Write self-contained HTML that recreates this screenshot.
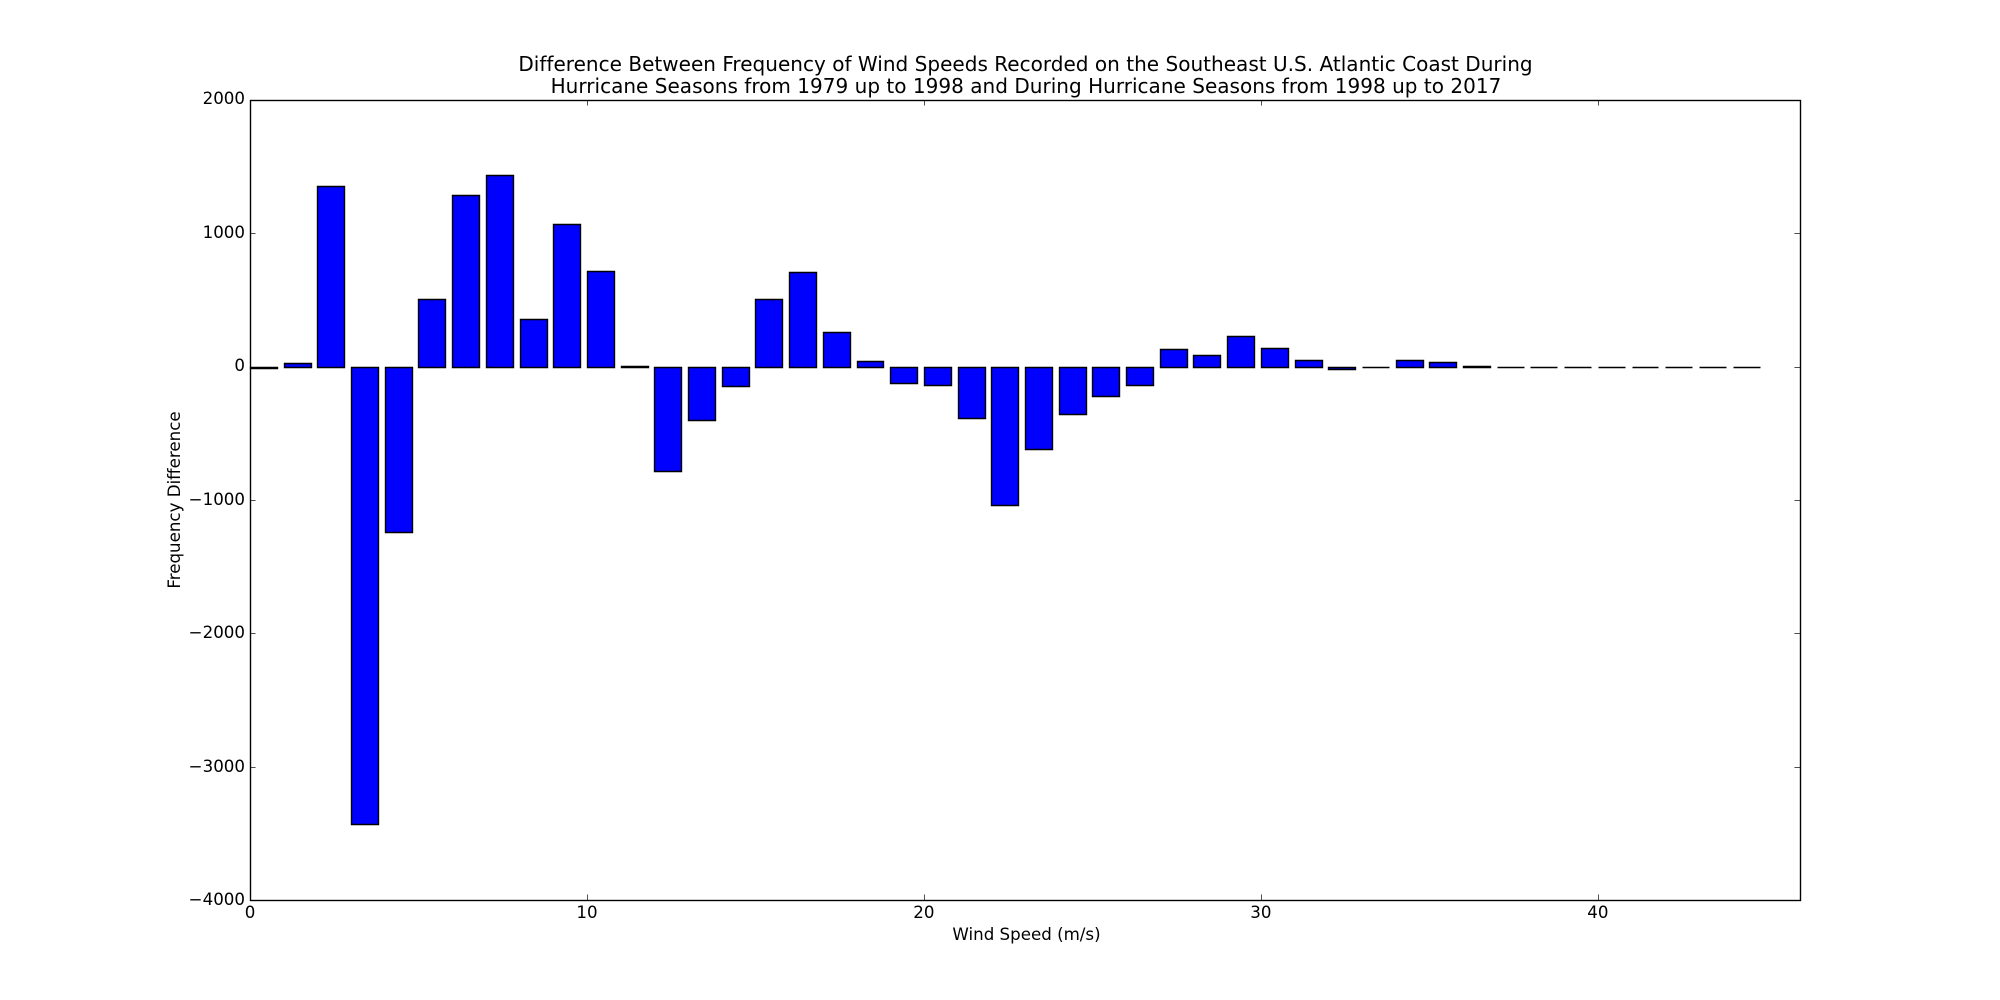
<!DOCTYPE html>
<html lang="en">
<head>
<meta charset="utf-8">
<title>Wind Speed Frequency Difference</title>
<style>
  html, body { margin: 0; padding: 0; background: #ffffff; }
  svg { display: block; }
  text { font-family: "DejaVu Sans", "Liberation Sans", sans-serif; fill: #000000; }
</style>
</head>
<body>
<svg id="chart" xmlns="http://www.w3.org/2000/svg" width="2000" height="1000" viewBox="0 0 2000 1000">
  <rect x="0" y="0" width="2000" height="1000" fill="#ffffff"/>
  <text x="1025.5" y="71" font-size="20" letter-spacing="0.02" text-anchor="middle">Difference Between Frequency of Wind Speeds Recorded on the Southeast U.S. Atlantic Coast During</text>
  <text x="1026" y="93" font-size="20" letter-spacing="0.02" text-anchor="middle">Hurricane Seasons from 1979 up to 1998 and During Hurricane Seasons from 1998 up to 2017</text>
  <text x="1026.5" y="940" font-size="16.67" text-anchor="middle">Wind Speed (m/s)</text>
  <text x="0" y="0" font-size="16.67" text-anchor="middle" transform="translate(180 500) rotate(-90)">Frequency Difference</text>
  <g id="bars"></g>
  <g id="ticks"></g>
  <g id="tick-labels"></g>
  <rect x="250.5" y="100.5" width="1550" height="800" fill="none" stroke="#000000" stroke-width="1.39"/>
</svg>
<script>
const windSpeeds = [0,1,2,3,4,5,6,7,8,9,10,11,12,13,14,15,16,17,18,19,20,21,22,23,24,25,26,27,28,29,30,31,32,33,34,35,36,37,38,39,40,41,42,43,44];
const frequencyDifferences = [-10,27,1355,-3430,-1240,505,1290,1438,360,1072,720,8,-782,-400,-145,507,712,258,42,-125,-140,-385,-1037,-620,-355,-220,-137,135,87,230,142,52,-17,0,52,37,8,0,0,0,0,0,0,0,0];
const xTickValues = [0,10,20,30,40];
const xTickLabels = ['0','10','20','30','40'];
const yTickValues = [2000,1000,0,-1000,-2000,-3000,-4000];
const yTickLabels = ['2000','1000','0','\u22121000','\u22122000','\u22123000','\u22124000'];

const NS = 'http://www.w3.org/2000/svg';
const plotLeft = 250, plotRight = 1800, plotTop = 100, plotBottom = 900;
const xMin = 0, xMax = 46, yMin = -4000, yMax = 2000, barWidth = 0.8;

function xScale(v) { return plotLeft + (v - xMin) / (xMax - xMin) * (plotRight - plotLeft); }
function yScale(v) { return plotBottom - (v - yMin) / (yMax - yMin) * (plotBottom - plotTop); }
function snap(p) { return Math.round(p) + 0.5; }

const barsGroup = document.getElementById('bars');
windSpeeds.forEach(function (speed, i) {
  const value = frequencyDifferences[i];
  const x0 = snap(xScale(speed));
  const x1 = snap(xScale(speed + barWidth));
  const y0 = snap(yScale(Math.max(value, 0)));
  const y1 = snap(yScale(Math.min(value, 0)));
  const bar = document.createElementNS(NS, 'path');
  bar.setAttribute('d', 'M' + x0 + ' ' + y0 + 'H' + x1 + 'V' + y1 + 'H' + x0 + 'Z');
  bar.setAttribute('fill', '#0000ff');
  bar.setAttribute('stroke', '#000000');
  bar.setAttribute('stroke-width', '1.39');
  
  
  barsGroup.appendChild(bar);
});

const ticksGroup = document.getElementById('ticks');
const labelsGroup = document.getElementById('tick-labels');
const tickLength = 5.56;

function addTick(x1, y1, x2, y2, name) {
  const tick = document.createElementNS(NS, 'line');
  tick.setAttribute('x1', x1);
  tick.setAttribute('y1', y1);
  tick.setAttribute('x2', x2);
  tick.setAttribute('y2', y2);
  tick.setAttribute('stroke', '#000000');
  tick.setAttribute('stroke-width', '0.69');
  
  
  ticksGroup.appendChild(tick);
}

xTickValues.forEach(function (value, i) {
  const px = snap(xScale(value));
  addTick(px, plotBottom, px, plotBottom - tickLength, 'x-tick-bottom-' + value);
  addTick(px, plotTop, px, plotTop + tickLength, 'x-tick-top-' + value);
  const label = document.createElementNS(NS, 'text');
  label.setAttribute('x', xScale(value));
  label.setAttribute('y', 918);
  label.setAttribute('font-size', '16.67');
  label.setAttribute('text-anchor', 'middle');
  
  
  label.textContent = xTickLabels[i];
  labelsGroup.appendChild(label);
});

yTickValues.forEach(function (value, i) {
  const py = snap(yScale(value));
  addTick(plotLeft, py, plotLeft + tickLength, py, 'y-tick-left-' + value);
  addTick(plotRight, py, plotRight - tickLength, py, 'y-tick-right-' + value);
  const label = document.createElementNS(NS, 'text');
  const tickY = yScale(value);
  label.setAttribute('x', 245);
  label.setAttribute('y', Math.round(tickY + 4.4 + 0.6 * (tickY - plotTop) / (plotBottom - plotTop)));
  label.setAttribute('font-size', '16.67');
  label.setAttribute('text-anchor', 'end');
  
  
  label.textContent = yTickLabels[i];
  labelsGroup.appendChild(label);
});
</script>
</body>
</html>
